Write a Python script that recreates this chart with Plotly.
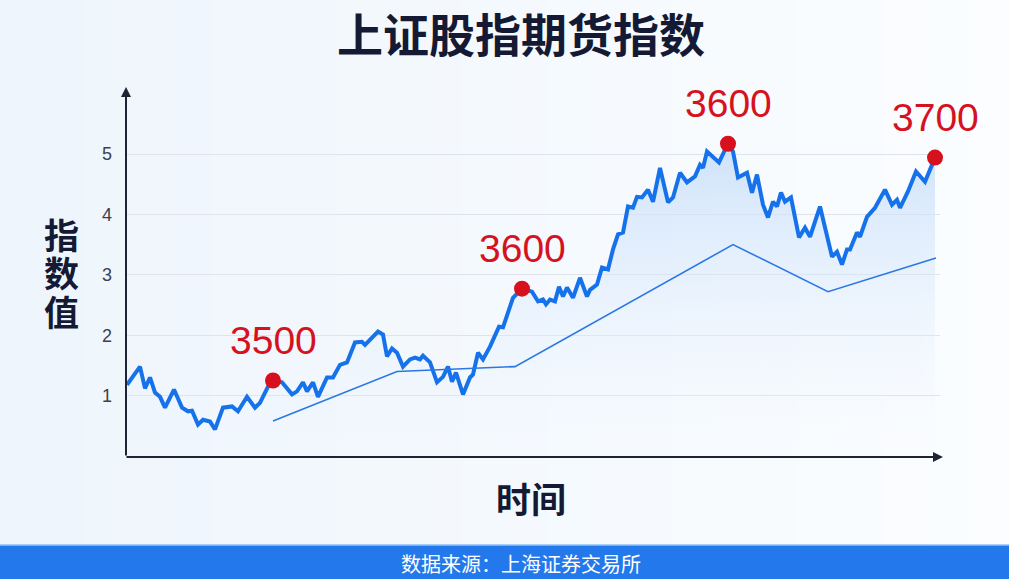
import plotly.graph_objects as go

# ---------------- data ----------------
days = [1, 7, 14, 19, 24, 29, 34, 39, 48, 56,
        62, 66, 72, 77, 84, 89, 97, 106, 112, 121,
        129, 134, 142, 147, 156, 166, 171, 177, 181, 187,
        192, 201, 207, 214, 221, 229, 236, 239, 244, 252,
        257, 261, 266, 271, 277, 284, 289, 294, 297, 304,
        311, 317, 322, 326, 330, 337, 344, 347, 352, 357,
        364, 373, 377, 387, 396, 406, 412, 417, 420, 424,
        429, 433, 437, 441, 447, 454, 461, 464, 471, 476,
        482, 487, 492, 497, 502, 507, 511, 516, 522, 527,
        534, 542, 547, 554, 561, 569, 574, 577, 581, 587,
        593, 599, 602, 607, 612, 621, 626, 631, 637, 642,
        647, 651, 655, 659, 665, 673, 679, 684, 694, 706,
        711, 716, 721, 724, 731, 734, 741, 749, 759, 766,
        771, 774, 782, 790, 799, 806, 809]
index_values = [1.18, 1.31, 1.48, 1.12, 1.30, 1.05, 0.98, 0.80, 1.10, 0.80,
                0.74, 0.75, 0.52, 0.60, 0.57, 0.44, 0.80, 0.82, 0.74, 0.98,
                0.80, 0.88, 1.15, 1.25, 1.22, 1.02, 1.07, 1.22, 1.07, 1.22,
                0.98, 1.30, 1.30, 1.51, 1.55, 1.88, 1.89, 1.84, 1.93, 2.06,
                2.01, 1.65, 1.78, 1.71, 1.48, 1.60, 1.63, 1.60, 1.66, 1.55,
                1.22, 1.31, 1.48, 1.23, 1.38, 1.02, 1.30, 1.35, 1.71, 1.60,
                1.81, 2.14, 2.13, 2.62, 2.77, 2.72, 2.56, 2.59, 2.51, 2.59,
                2.56, 2.80, 2.64, 2.79, 2.62, 2.95, 2.64, 2.75, 2.84, 3.12,
                3.09, 3.42, 3.67, 3.70, 4.13, 4.11, 4.29, 4.28, 4.41, 4.21,
                4.77, 4.20, 4.28, 4.69, 4.53, 4.63, 4.82, 4.77, 5.04, 4.94,
                4.86, 5.07, 5.17, 5.04, 4.61, 4.69, 4.36, 4.66, 4.16, 3.95,
                4.21, 4.13, 4.36, 4.21, 4.28, 3.62, 3.78, 3.63, 4.13, 3.30,
                3.38, 3.17, 3.42, 3.42, 3.70, 3.63, 3.96, 4.11, 4.41, 4.16,
                4.24, 4.11, 4.38, 4.71, 4.54, 4.82, 4.94]

trend_days = [147, 271, 389, 607, 702, 810]
trend_values = [0.58, 1.40, 1.48, 3.50, 2.72, 3.28]

marker_days = [147, 396, 602, 809]
marker_values = [1.25, 2.77, 5.17, 4.94]
marker_labels = ["3500", "3600", "3600", "3700"]

y_ticks = [1, 2, 3, 4, 5]

title_text = "上证股指期货指数"
y_title_chars = ["指", "数", "值"]
x_title_text = "时间"
source_text = "数据来源：上海证券交易所"

# ---------------- layout geometry ----------------
W, H = 1009, 579
L, R, T, B = 126, 69, 90, 123
PW, PH = W - L - R, H - T - B
PX_PER_UNIT = 60.4
Y_MAX = PH / PX_PER_UNIT
X_MAX = PW


def px_x(px):
    return (px - L) / PW


def px_y(py):
    return (H - B - py) / PH


CJK = "Noto Sans CJK SC, Noto Sans, sans-serif"
LAT = "Liberation Sans, Arial, sans-serif"
AXIS_COLOR = "#1e2433"

fig = go.Figure()

fig.add_trace(go.Scatter(
    x=days, y=index_values, mode="lines",
    line=dict(color="#1672ea", width=4, shape="linear"),
    fill="tozeroy",
    fillgradient=dict(
        type="vertical", start=0, stop=5.2,
        colorscale=[[0, "rgba(235,243,253,0.0)"], [1, "rgba(196,220,250,0.8)"]],
    ),
    hoverinfo="skip", showlegend=False,
))

fig.add_trace(go.Scatter(
    x=trend_days, y=trend_values, mode="lines",
    line=dict(color="#2a78e4", width=1.6),
    hoverinfo="skip", showlegend=False,
))

fig.add_trace(go.Scatter(
    x=marker_days, y=marker_values, mode="markers",
    marker=dict(color="#d7101e", size=16, line=dict(width=0)),
    hoverinfo="skip", showlegend=False, cliponaxis=False,
))

annotations = []
for d, v, lab in zip(marker_days, marker_values, marker_labels):
    annotations.append(dict(
        x=d, y=v, xref="x", yref="y", text=lab, showarrow=False,
        yshift=40, yanchor="middle", xanchor="center",
        font=dict(family=LAT, size=39, color="#d5121e"),
    ))

# axis arrows
annotations.append(dict(
    x=0, y=px_y(87), xref="paper", yref="paper", axref="pixel", ayref="pixel",
    ax=0, ay=(H - B) - 87 + 1, text="", showarrow=True, arrowhead=2,
    arrowsize=1, arrowwidth=2, arrowcolor=AXIS_COLOR, standoff=0,
))
annotations.append(dict(
    x=px_x(943), y=px_y(457), xref="paper", yref="paper", axref="pixel", ayref="pixel",
    ax=-(943 - L + 1), ay=0, text="", showarrow=True, arrowhead=2,
    arrowsize=1, arrowwidth=2, arrowcolor=AXIS_COLOR, standoff=0,
))

# title
annotations.append(dict(
    x=px_x(521), y=px_y(32), xref="paper", yref="paper",
    text="<b>" + title_text + "</b>", showarrow=False,
    xanchor="center", yanchor="middle",
    font=dict(family=CJK, size=46, color="#141a33"),
))

# y title, stacked characters in one text (line spacing from the base size)
y_title_html = "<br>".join(
    "<b><span style='font-size:35px'>" + ch + "</span></b>" for ch in y_title_chars
)
annotations.append(dict(
    x=px_x(61), y=px_y(271.5), xref="paper", yref="paper",
    text=y_title_html, showarrow=False,
    xanchor="center", yanchor="middle", align="center",
    font=dict(family=CJK, size=29.6, color="#141a33"),
))

# x title
annotations.append(dict(
    x=px_x(531), y=px_y(497), xref="paper", yref="paper",
    text="<b>" + x_title_text + "</b>", showarrow=False,
    xanchor="center", yanchor="middle",
    font=dict(family=CJK, size=35, color="#141a33"),
))

# source band text
annotations.append(dict(
    x=px_x(521), y=px_y(563), xref="paper", yref="paper",
    text=source_text, showarrow=False,
    xanchor="center", yanchor="middle",
    font=dict(family=CJK, size=20, color="#ffffff"),
))

shapes = []
# subtle horizontal background gradient
n_strips = 24
c0 = (238, 245, 252)
c1 = (251, 253, 255)
for i in range(n_strips):
    f = i / (n_strips - 1)
    col = tuple(round(c0[k] + (c1[k] - c0[k]) * f) for k in range(3))
    shapes.append(dict(
        type="rect", xref="paper", yref="paper", layer="below",
        x0=px_x(W * i / n_strips), x1=px_x(W * (i + 1) / n_strips + 1),
        y0=px_y(545), y1=px_y(0),
        fillcolor="rgb(%d,%d,%d)" % col, line=dict(width=0),
    ))
# blue source band
shapes.append(dict(
    type="rect", xref="paper", yref="paper", layer="below",
    x0=px_x(0), x1=px_x(W), y0=px_y(H), y1=px_y(545),
    fillcolor="#2379ec", line=dict(width=0),
))
shapes.append(dict(
    type="line", xref="paper", yref="paper", layer="below",
    x0=px_x(0), x1=px_x(W), y0=px_y(545), y1=px_y(545),
    line=dict(color="#8fc0fa", width=1.5),
))

fig.update_layout(
    width=W, height=H,
    margin=dict(l=L, r=R, t=T, b=B, pad=0),
    paper_bgcolor="#f6f9fd",
    plot_bgcolor="rgba(0,0,0,0)",
    showlegend=False,
    annotations=annotations,
    shapes=shapes,
    xaxis=dict(
        range=[0, X_MAX], showgrid=False, zeroline=False, showticklabels=False,
        ticks="", showline=False, fixedrange=True,
    ),
    yaxis=dict(
        range=[0, Y_MAX], tickvals=y_ticks, showgrid=True, gridcolor="#dfe4ea",
        gridwidth=1, zeroline=False, showline=False, ticks="",
        tickfont=dict(family=LAT, size=18, color="#3a4150"),
        ticklabelstandoff=13, fixedrange=True,
    ),
)

fig.write_html(
    "out.html",
    config={"displayModeBar": False},
    post_script="document.body.style.margin='0';document.body.style.overflow='hidden';",
)
